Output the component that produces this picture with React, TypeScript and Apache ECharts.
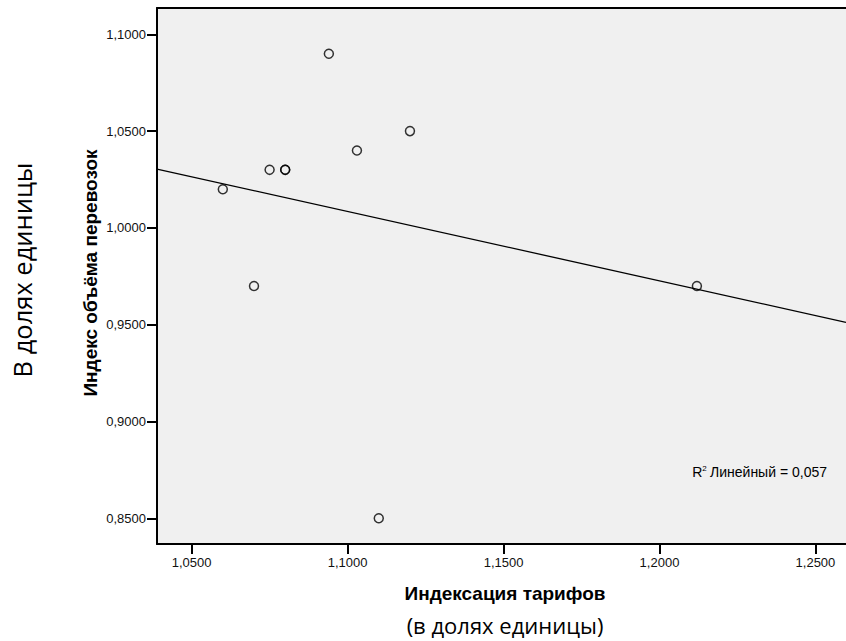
import React, { useEffect, useRef } from "react";
import * as echarts from "echarts";

// Data
const tariffIndex = [1.094, 1.12, 1.103, 1.075, 1.08, 1.08, 1.06, 1.07, 1.11, 1.212];
const volumeIndex = [1.09, 1.05, 1.04, 1.03, 1.03, 1.03, 1.02, 0.97, 0.85, 0.97];
const fitLineX = [1.0389, 1.2598];
const fitLineY = [1.0304, 0.9512];
const xTicks = [1.05, 1.1, 1.15, 1.2, 1.25];
const yTicks = [0.85, 0.9, 0.95, 1.0, 1.05, 1.1];
const xRange = [1.0389, 1.2598];
const yRange = [0.8367, 1.1136];
const r2Text = "Линейный = 0,057";

const fmt = (v: number) => v.toFixed(4).replace(".", ",");

export default function App() {
  const ref = useRef<HTMLDivElement>(null);
  useEffect(() => {
    if (!ref.current) return;
    const chart = echarts.init(ref.current, null, { renderer: "svg" });
    const font = "'Liberation Sans', Arial, sans-serif";
    chart.setOption({
      animation: false,
      backgroundColor: "#ffffff",
      grid: {
        left: 157,
        top: 8,
        right: 0,
        bottom: 97,
        show: true,
        backgroundColor: "#f0f0f0",
        borderWidth: 0,
      },
      xAxis: [
        {
          type: "value",
          min: xRange[0],
          max: xRange[1],
          position: "bottom",
          axisLine: { show: true, lineStyle: { color: "#000", width: 2 } },
          axisTick: {
            show: true,
            inside: false,
            length: 10,
            lineStyle: { color: "#000", width: 2 },
            customValues: xTicks,
          },
          axisLabel: {
            show: true,
            margin: 12,
            fontFamily: font,
            fontSize: 13,
            color: "#111",
            customValues: xTicks,
            formatter: (v: number) => fmt(v),
          },
          splitLine: { show: false },
        },
        {
          type: "value",
          min: xRange[0],
          max: xRange[1],
          position: "top",
          axisLine: { show: true, lineStyle: { color: "#000", width: 2 } },
          axisTick: { show: false },
          axisLabel: { show: false },
          splitLine: { show: false },
        },
      ],
      yAxis: {
        type: "value",
        min: yRange[0],
        max: yRange[1],
        axisLine: { show: true, lineStyle: { color: "#000", width: 2 } },
        axisTick: {
          show: true,
          inside: false,
          length: 10,
          lineStyle: { color: "#000", width: 2 },
          customValues: yTicks,
        },
        axisLabel: {
          show: true,
          margin: 11,
          fontFamily: font,
          fontSize: 13,
          color: "#111",
          customValues: yTicks,
          formatter: (v: number) => fmt(v),
        },
        splitLine: { show: false },
      },
      series: [
        {
          type: "line",
          xAxisIndex: 0,
          data: fitLineX.map((x, i) => [x, fitLineY[i]]),
          showSymbol: false,
          symbol: "none",
          lineStyle: { color: "#000", width: 1.3 },
          z: 2,
        },
        {
          type: "scatter",
          xAxisIndex: 0,
          data: tariffIndex.map((x, i) => [x, volumeIndex[i]]),
          symbol: "circle",
          symbolSize: 9,
          itemStyle: { color: "rgba(240,240,240,0)", borderColor: "#000", borderWidth: 1.5 },
          z: 3,
        },
      ],
      graphic: [
        {
          type: "text",
          x: 505,
          y: 593,
          style: {
            text: "Индексация тарифов",
            font: `bold 19px ${font}`,
            fill: "#000",
            align: "center",
            verticalAlign: "middle",
          },
        },
        {
          type: "text",
          x: 505,
          y: 625,
          style: {
            text: "(в долях единицы)",
            font: "22px 'Open Sans', sans-serif",
            fill: "#000",
            align: "center",
            verticalAlign: "middle",
          },
        },
        {
          type: "text",
          x: 90,
          y: 273,
          rotation: Math.PI / 2,
          style: {
            text: "Индекс объёма перевозок",
            font: `bold 19px ${font}`,
            fill: "#000",
            align: "center",
            verticalAlign: "middle",
          },
        },
        {
          type: "text",
          x: 22,
          y: 270,
          rotation: Math.PI / 2,
          style: {
            text: "В долях единицы",
            font: "25.5px 'Open Sans', sans-serif",
            fill: "#000",
            align: "center",
            verticalAlign: "middle",
          },
        },
        {
          type: "text",
          x: 827,
          y: 472,
          style: {
            text: "{r|R}{s|2} {r|" + r2Text + "}",
            align: "right",
            verticalAlign: "middle",
            rich: {
              r: { fontSize: 14, fontFamily: font, color: "#111" },
              s: { fontSize: 8, fontFamily: font, color: "#111", verticalAlign: "top", padding: [0, 0, 7, 0] },
            },
          },
        },
      ],
    });
    return () => chart.dispose();
  }, []);
  return (
    <div
      ref={ref}
      style={{ position: "fixed", left: 0, top: 0, width: 846, height: 641, background: "#fff" }}
    />
  );
}
